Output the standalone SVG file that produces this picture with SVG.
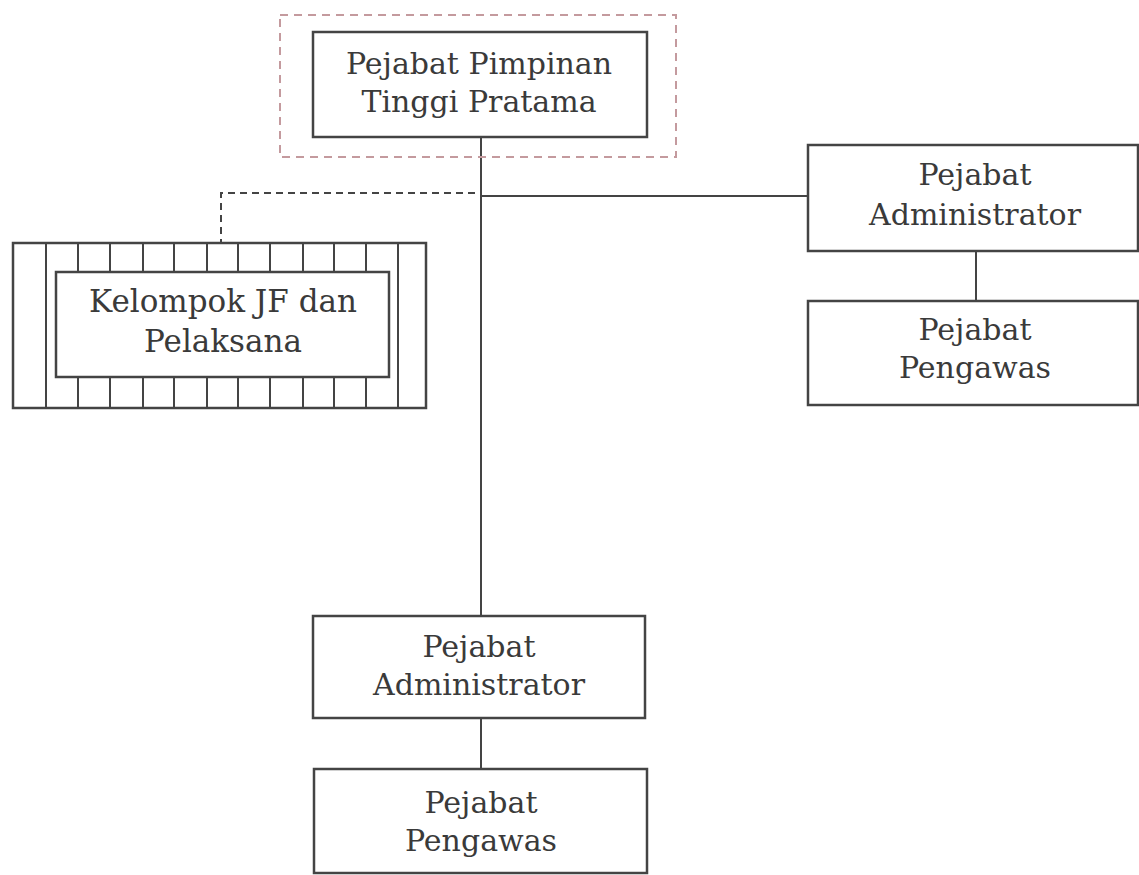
<svg xmlns="http://www.w3.org/2000/svg" width="1139" height="875" viewBox="0 0 1139 875">
<style>
.box{fill:#fff;stroke:#444;stroke-width:2.5}
.ln{stroke:#444;stroke-width:2;fill:none}
.dash{stroke:#444;stroke-width:2;fill:none;stroke-dasharray:7 5}
.rdash{stroke:#c49a9e;stroke-width:2;fill:none;stroke-dasharray:8 6}
text{font-family:"DejaVu Serif","Liberation Serif",serif;font-size:30px;fill:#3a3a3a;text-anchor:middle}
</style>
<rect width="1139" height="875" fill="#fff"/>
<g id="connectors">
<line class="ln" x1="481" y1="137" x2="481" y2="616"/>
<line class="ln" x1="481" y1="196" x2="808" y2="196"/>
<polyline class="dash" points="475,193 221,193 221,243"/>
<line class="ln" x1="976" y1="251" x2="976" y2="301"/>
<line class="ln" x1="481" y1="718" x2="481" y2="769"/>
</g>
<g id="node-top">
<rect class="rdash" x="280" y="15" width="396" height="142"/>
<rect class="box" x="313" y="32" width="334" height="105"/>
<text x="479" y="74">Pejabat Pimpinan</text>
<text x="479" y="112">Tinggi Pratama</text>
</g>
<g id="node-kelompok">
<rect class="box" x="13" y="243" width="413" height="165"/>
<g class="ln">
<line x1="46" y1="243" x2="46" y2="408"/>
<line x1="398" y1="243" x2="398" y2="408"/>
<path d="M78 243V272M110 243V272M143 243V272M174 243V272M207 243V272M238 243V272M270 243V272M303 243V272M334 243V272M366 243V272"/>
<path d="M78 377V408M110 377V408M143 377V408M174 377V408M207 377V408M238 377V408M270 377V408M303 377V408M334 377V408M366 377V408"/>
</g>
<rect class="box" x="56" y="272" width="333" height="105"/>
<text x="223" y="312" style="font-size:31px">Kelompok JF dan</text>
<text x="223" y="352" style="font-size:31px">Pelaksana</text>
</g>
<g id="node-admin-right">
<rect class="box" x="808" y="145" width="330" height="106"/>
<text x="975" y="185">Pejabat</text>
<text x="975" y="225">Administrator</text>
</g>
<g id="node-pengawas-right">
<rect class="box" x="808" y="301" width="330" height="104"/>
<text x="975" y="340">Pejabat</text>
<text x="975" y="378">Pengawas</text>
</g>
<g id="node-admin-bottom">
<rect class="box" x="313" y="616" width="332" height="102"/>
<text x="479" y="657">Pejabat</text>
<text x="479" y="695">Administrator</text>
</g>
<g id="node-pengawas-bottom">
<rect class="box" x="314" y="769" width="333" height="104"/>
<text x="481" y="813">Pejabat</text>
<text x="481" y="851">Pengawas</text>
</g>
</svg>
